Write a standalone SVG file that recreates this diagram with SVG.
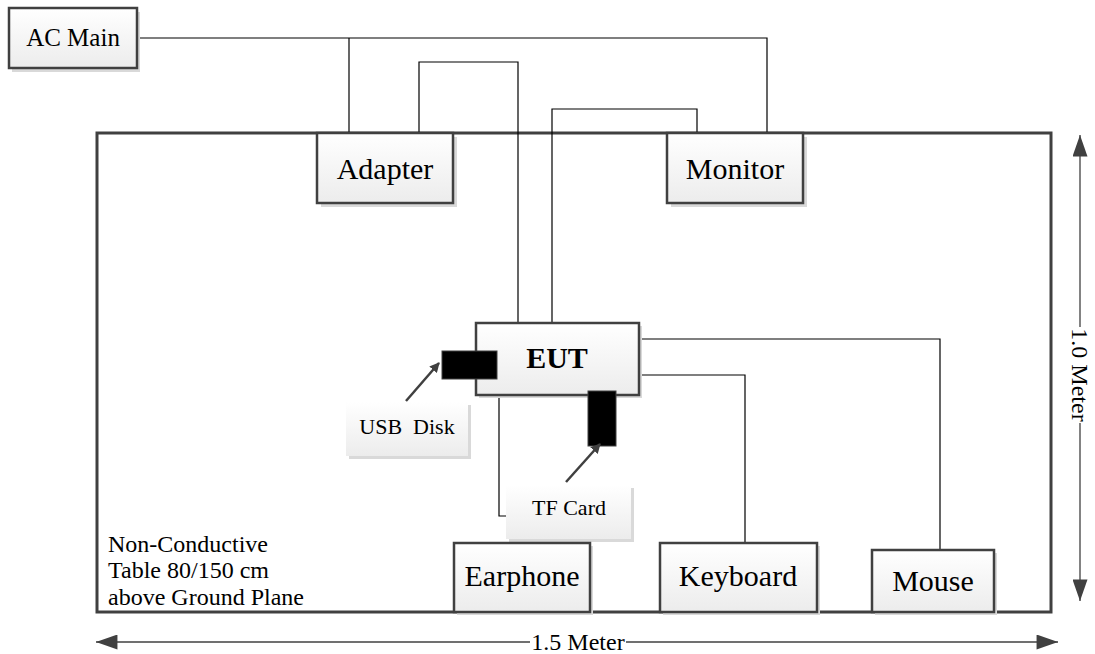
<svg xmlns="http://www.w3.org/2000/svg" width="1095" height="654" viewBox="0 0 1095 654">
<defs>
<linearGradient id="g" x1="0" y1="0" x2="0" y2="1">
<stop offset="0" stop-color="#ffffff"/>
<stop offset="1" stop-color="#ececec"/>
</linearGradient>
<marker id="ah" viewBox="0 0 10 10" refX="9" refY="5" markerWidth="10" markerHeight="10" markerUnits="userSpaceOnUse" orient="auto">
<path d="M0,0 L10,5 L0,10 z" fill="#404040"/>
</marker>
<marker id="dim" viewBox="0 0 20 14" refX="20" refY="7" markerWidth="22" markerHeight="15" markerUnits="userSpaceOnUse" orient="auto">
<path d="M0,0 L20,7 L0,14 z" fill="#404040"/>
</marker>
</defs>
<style>
.box{fill:url(#g);stroke:#404040;stroke-width:2.5}
.sh{fill:#d9d9d9}
.lbl{fill:url(#g)}
.t{font-family:"Liberation Serif","Times New Roman",serif;fill:#000;text-anchor:middle}
.n{font-family:"Liberation Serif","Times New Roman",serif;fill:#000;font-size:24px}
.w{fill:none;stroke:#000;stroke-width:1.2}
.dl{fill:none;stroke:#404040;stroke-width:1.3}
</style>
<rect width="1095" height="654" fill="#fff"/>

<g id="table">
<rect x="97" y="133" width="954" height="479" fill="none" stroke="#404040" stroke-width="3"/>
<text class="n" x="108" y="552">Non-Conductive</text>
<text class="n" x="108" y="578">Table 80/150 cm</text>
<text class="n" x="108" y="605">above Ground Plane</text>
</g>

<g id="connectors">
<polyline class="w" points="137,38 767,38 767,133"/>
<polyline class="w" points="349,38 349,133"/>
<polyline class="w" points="419,133 419,62 518,62 518,323"/>
<polyline class="w" points="552,323 552,109 697,109 697,133"/>
<polyline class="w" points="639,339 940,339 940,549"/>
<polyline class="w" points="639,375 745,375 745,543"/>
<polyline class="w" points="499,395 499,516 530,516 530,543"/>
</g>

<g id="ac-main">
<rect class="sh" x="12" y="12" width="128" height="60"/>
<rect class="box" x="9" y="8" width="128" height="60"/>
<text class="t" x="73" y="46" font-size="25">AC Main</text>
</g>

<g id="adapter">
<rect class="sh" x="321" y="137" width="136" height="70"/>
<rect class="box" x="317" y="133" width="136" height="70"/>
<text class="t" x="385" y="179" font-size="30">Adapter</text>
</g>

<g id="monitor">
<rect class="sh" x="671" y="137" width="136" height="70"/>
<rect class="box" x="667" y="133" width="136" height="70"/>
<text class="t" x="735" y="179" font-size="30">Monitor</text>
</g>

<g id="eut">
<rect class="sh" x="479" y="326" width="163" height="72"/>
<rect class="box" x="476" y="323" width="163" height="72"/>
<text class="t" x="557" y="368" font-size="30" font-weight="bold">EUT</text>
</g>

<g id="usb-disk">
<rect x="442" y="351" width="55" height="28" fill="#000" stroke="#404040" stroke-width="1"/>
<rect class="sh" x="349" y="405" width="122" height="54"/>
<rect class="lbl" x="346" y="402" width="122" height="54"/>
<text class="t" x="407" y="434" font-size="22" xml:space="preserve">USB  Disk</text>
<line x1="406" y1="401" x2="439" y2="363" stroke="#404040" stroke-width="2.5" marker-end="url(#ah)"/>
</g>

<g id="tf-card">
<rect x="588" y="391" width="28" height="55" fill="#000" stroke="#404040" stroke-width="1"/>
<rect class="sh" x="509" y="488" width="125" height="54"/>
<rect class="lbl" x="506" y="485" width="125" height="54"/>
<text class="t" x="569" y="515" font-size="22">TF Card</text>
<line x1="566" y1="482" x2="600" y2="444" stroke="#404040" stroke-width="2.5" marker-end="url(#ah)"/>
</g>

<g id="earphone">
<rect class="sh" x="457" y="546" width="136" height="69"/>
<rect class="box" x="454" y="543" width="136" height="69"/>
<text class="t" x="522" y="586" font-size="30">Earphone</text>
</g>

<g id="keyboard">
<rect class="sh" x="663" y="546" width="157" height="69"/>
<rect class="box" x="660" y="543" width="157" height="69"/>
<text class="t" x="738" y="586" font-size="30">Keyboard</text>
</g>

<g id="mouse">
<rect class="sh" x="875" y="553" width="122" height="62"/>
<rect class="box" x="872" y="550" width="122" height="62"/>
<text class="t" x="933" y="591" font-size="30">Mouse</text>
</g>

<g id="dimensions">
<line class="dl" x1="530" y1="642" x2="96" y2="642" marker-end="url(#dim)"/>
<line class="dl" x1="626" y1="642" x2="1058" y2="642" marker-end="url(#dim)"/>
<text class="t" x="578" y="650" font-size="24">1.5 Meter</text>
<line class="dl" x1="1080" y1="327" x2="1080" y2="135" marker-end="url(#dim)"/>
<line class="dl" x1="1080" y1="423" x2="1080" y2="601" marker-end="url(#dim)"/>
<text class="t" font-size="24" transform="translate(1072,375) rotate(90)">1.0 Meter</text>
</g>
</svg>
